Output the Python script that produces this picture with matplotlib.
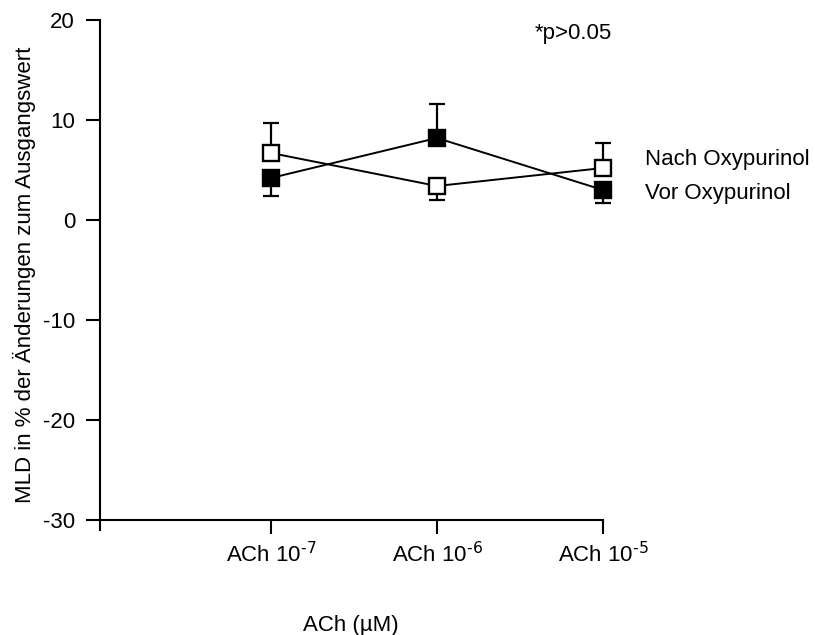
import matplotlib.pyplot as plt
import numpy as np

plt.rcParams['font.family'] = ['Liberation Sans', 'DejaVu Sans']
plt.rcParams['mathtext.default'] = 'regular'
plt.rcParams['axes.unicode_minus'] = False

labels = [r'ACh 10$^{\text{-7}}$', r'ACh 10$^{\text{-6}}$', r'ACh 10$^{\text{-5}}$']
nach = np.array([6.7, 3.4, 5.2])
nach_lo = np.array([0.0, 1.4, 0.0])
nach_hi = np.array([3.0, 0.0, 2.5])
vor = np.array([4.2, 8.2, 3.0])
vor_lo = np.array([1.8, 0.0, 1.3])
vor_hi = np.array([0.0, 3.4, 0.0])

x = np.arange(len(labels))

fig = plt.figure(figsize=(8.15, 6.35), dpi=100)
ax = fig.add_axes([100/815, 1-530/635, 503/815, 510/635])

ax.errorbar(x, nach, yerr=[nach_lo, nach_hi], fmt='none', ecolor='black',
            elinewidth=1.6, capsize=6, capthick=1.6, clip_on=False, zorder=2)
ax.errorbar(x, vor, yerr=[vor_lo, vor_hi], fmt='none', ecolor='black',
            elinewidth=1.6, capsize=6, capthick=1.6, clip_on=False, zorder=2)
ax.plot(x, nach, '-', color='black', lw=1.4, marker='s', ms=11.5,
        mfc='white', mec='black', mew=1.7, clip_on=False, zorder=3)
ax.plot(x, vor, '-', color='black', lw=1.4, marker='s', ms=11.5,
        mfc='black', mec='black', mew=1.7, clip_on=False, zorder=3)

ax.text(2.253, nach[-1] + 0.8, 'Nach Oxypurinol', fontsize=16, va='center')
ax.text(2.253, vor[-1] - 0.3, 'Vor Oxypurinol', fontsize=16, va='center')
ax.text(1.59, 18.6, '*p>0.05', fontsize=16, va='center')

ax.set_xlim(-1.03, 2.0)
ax.set_ylim(-31, 20)
ax.set_yticks([-30, -20, -10, 0, 10, 20])
ax.set_xticks(x)
ax.set_xticklabels(labels)

ax.spines['top'].set_visible(False)
ax.spines['right'].set_visible(False)
ax.spines['bottom'].set_position(('data', -30))
ax.spines['left'].set_bounds(-31, 20)
for s in ['left', 'bottom']:
    ax.spines[s].set_linewidth(1.5)
ax.tick_params(axis='both', length=10, width=1.5, labelsize=16, direction='out')
ax.tick_params(axis='y', pad=8)
ax.tick_params(axis='x', pad=6)

ax.set_ylabel('MLD in % der Änderungen zum Ausgangswert', fontsize=16, labelpad=5)
fig.text(351/815, 1-626/635, 'ACh (µM)', fontsize=16, ha='center', va='center')

fig.savefig('out.png', dpi=100)
